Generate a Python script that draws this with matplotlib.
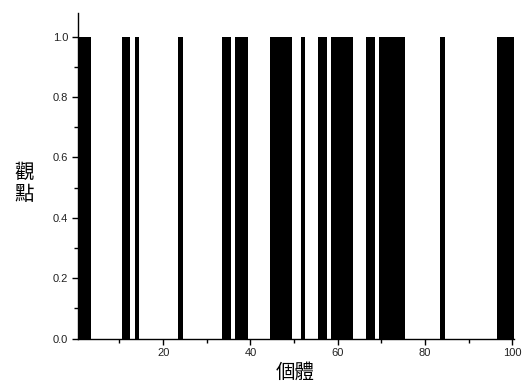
import matplotlib
matplotlib.use("Agg")
import matplotlib.pyplot as plt
from matplotlib.ticker import MultipleLocator

individuals = list(range(1, 101))
opinions = [
    1, 1, 1, 0, 0, 0, 0, 0, 0, 0,
    1, 1, 0, 1, 0, 0, 0, 0, 0, 0,
    0, 0, 0, 1, 0, 0, 0, 0, 0, 0,
    0, 0, 0, 1, 1, 0, 1, 1, 1, 0,
    0, 0, 0, 0, 1, 1, 1, 1, 1, 0,
    0, 1, 0, 0, 0, 1, 1, 0, 1, 1,
    1, 1, 1, 0, 0, 0, 1, 1, 0, 1,
    1, 1, 1, 1, 1, 0, 0, 0, 0, 0,
    0, 0, 0, 1, 0, 0, 0, 0, 0, 0,
    0, 0, 0, 0, 0, 0, 1, 1, 1, 1,
]
x_ticks = [20, 40, 60, 80, 100]
y_ticks = [0.0, 0.2, 0.4, 0.6, 0.8, 1.0]
x_label = "個體"
y_label = "觀\n點"

fig = plt.figure(figsize=(5.27, 3.83), dpi=100)
ax = fig.add_axes([0.1476, 0.1157, 0.976 - 0.1476, 0.9653 - 0.1157])
ax.bar(individuals, opinions, width=1.0, color="black", edgecolor="none",
       linewidth=0)
ax.set_xlim(0.45, 100.45)
ax.set_ylim(0, 1.077)
ax.set_xticks(x_ticks)
ax.set_yticks(y_ticks)
ax.xaxis.set_minor_locator(MultipleLocator(10))
ax.yaxis.set_minor_locator(MultipleLocator(0.1))
ax.set_xticklabels([str(v) for v in x_ticks], fontfamily="Liberation Sans",
                   fontsize=8, color="#222222")
ax.set_yticklabels([f"{v:.1f}" for v in y_ticks], fontfamily="Liberation Sans",
                   fontsize=8, color="#222222")
for s in ["top", "right"]:
    ax.spines[s].set_visible(False)
for s in ["left", "bottom"]:
    ax.spines[s].set_linewidth(1.0)
ax.tick_params(which="major", direction="out", length=4, width=1, pad=3)
ax.tick_params(which="minor", direction="out", length=3, width=1)

fig.text(0.046, 0.52, y_label, ha="center", va="center",
         fontfamily=["Noto Sans CJK TC"], fontsize=14, linespacing=1.05)
fig.text(0.56, 0.028, x_label, ha="center", va="center",
         fontfamily=["Noto Sans CJK TC"], fontsize=14)

fig.savefig("out.png", dpi=100)
